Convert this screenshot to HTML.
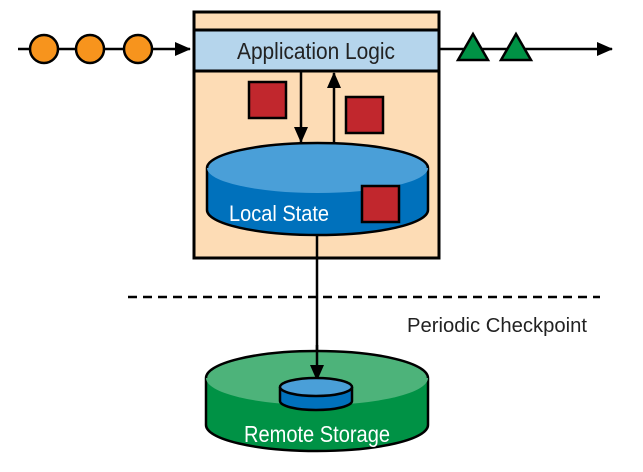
<!DOCTYPE html>
<html><head><style>
html,body{margin:0;padding:0;background:#fff;}
svg{display:block;}
text{font-family:"Liberation Sans",sans-serif;}
</style></head><body>
<svg width="643" height="472" viewBox="0 0 643 472" xmlns="http://www.w3.org/2000/svg">
<defs>
<marker id="ah2" markerWidth="16" markerHeight="16" refX="15" refY="8" orient="auto" markerUnits="userSpaceOnUse">
<path d="M0,1 L16,8 L0,15 z" fill="#000"/></marker>
</defs>
<line x1="18" y1="49" x2="190" y2="49" stroke="#000" stroke-width="2.5" marker-end="url(#ah2)"/>
<circle cx="44" cy="49" r="14" fill="#f7941d" stroke="#000" stroke-width="2.5"/>
<circle cx="90" cy="49" r="14" fill="#f7941d" stroke="#000" stroke-width="2.5"/>
<circle cx="138" cy="49" r="14" fill="#f7941d" stroke="#000" stroke-width="2.5"/>
<line x1="440" y1="49" x2="612" y2="49" stroke="#000" stroke-width="2.5" marker-end="url(#ah2)"/>
<polygon points="473,34 488,60 458,60" fill="#009245" stroke="#000" stroke-width="2.5"/>
<polygon points="516,34 531,60 501,60" fill="#009245" stroke="#000" stroke-width="2.5"/>
<rect x="194" y="12" width="245" height="246" fill="#fddcb5" stroke="#000" stroke-width="3"/>
<rect x="194" y="30" width="245" height="41" fill="#b5d5ec" stroke="#000" stroke-width="3"/>
<text x="316" y="59" font-size="23" text-anchor="middle" fill="#222" textLength="158" lengthAdjust="spacingAndGlyphs">Application Logic</text>
<line x1="301" y1="72" x2="301" y2="142" stroke="#000" stroke-width="2.5" marker-end="url(#ah2)"/>
<line x1="334" y1="142" x2="334" y2="73" stroke="#000" stroke-width="2.5" marker-end="url(#ah2)"/>
<rect x="249" y="82" width="37" height="36" fill="#c1272d" stroke="#000" stroke-width="2.5"/>
<rect x="346" y="97" width="37" height="36" fill="#c1272d" stroke="#000" stroke-width="2.5"/>
<path d="M207,168 L207,210 A110.5,25 0 0 0 428,210 L428,168" fill="#0071bc" stroke="#000" stroke-width="2.5"/>
<ellipse cx="317.5" cy="168" rx="110.5" ry="25" fill="#4a9fd8"/>
<path d="M207,168 A110.5,25 0 0 1 428,168" fill="none" stroke="#000" stroke-width="2.5"/>
<text x="279" y="221" font-size="22" text-anchor="middle" fill="#fff" textLength="100" lengthAdjust="spacingAndGlyphs">Local State</text>
<rect x="362" y="186" width="37" height="36" fill="#c1272d" stroke="#000" stroke-width="2.5"/>
<line x1="317" y1="236" x2="317" y2="372" stroke="#000" stroke-width="2.5" marker-end="url(#ah2)"/>
<line x1="128" y1="297" x2="600" y2="297" stroke="#000" stroke-width="2.5" stroke-dasharray="9,6"/>
<text x="407" y="332" font-size="20" fill="#222" textLength="180" lengthAdjust="spacingAndGlyphs">Periodic Checkpoint</text>
<path d="M206,378 L206,425 A111,26 0 0 0 428,425 L428,378" fill="#009245" stroke="#000" stroke-width="2.5"/>
<ellipse cx="317" cy="378" rx="111" ry="27" fill="#4db37a"/>
<path d="M206,378 A111,27 0 0 1 428,378" fill="none" stroke="#000" stroke-width="2.5"/>
<line x1="317" y1="345" x2="317" y2="380" stroke="#000" stroke-width="2.5" marker-end="url(#ah2)"/>
<path d="M280,387 L280,401 A36,9 0 0 0 352,401 L352,387" fill="#0071bc" stroke="#000" stroke-width="2.5"/>
<ellipse cx="316" cy="387" rx="36" ry="9" fill="#4a9fd8" stroke="#000" stroke-width="2.5"/>
<text x="317" y="442" font-size="23" text-anchor="middle" fill="#fff" textLength="146" lengthAdjust="spacingAndGlyphs">Remote Storage</text>
</svg>
</body></html>
